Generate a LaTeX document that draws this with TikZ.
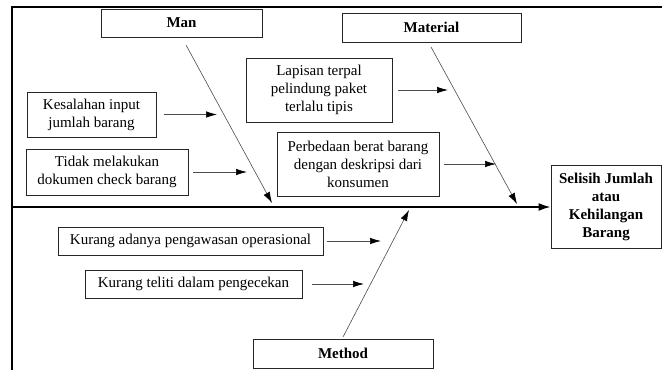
\documentclass[tikz,border=0pt]{standalone}
\usepackage{fontspec}
\setmainfont{Liberation Serif}
\usetikzlibrary{arrows.meta}

\tikzset{
  box/.style={draw=black!85, line width=0.8pt, align=center, inner sep=0pt,
    font=\fontsize{15}{18}\selectfont},
  head/.style={box, font=\fontsize{15}{18}\selectfont\bfseries},
  bone/.style={draw=black!70, line width=0.6pt, -{Latex[length=11pt,width=7pt,color=black]}},
  cause/.style={draw=black!70, line width=0.7pt, -{Latex[length=11pt,width=6.5pt,color=black]}},
}

\begin{document}
\begin{tikzpicture}[x=1pt, y=-1pt] % y runs downwards, as in the picture

  \useasboundingbox (0,0) rectangle (662,370);

  % Frame (top and left edge)
  \draw[line width=2.2pt] (12,370) -- (12,7) -- (662,7);

  % Effect and main spine
  \node[head, minimum width=110pt, minimum height=83pt] (effect) at (606,207)
    {Selisih Jumlah\\atau\\Kehilangan\\Barang};
  \coordinate (spineStart) at (12,207);
  \draw[line width=1.8pt, -{Latex[length=12pt,width=8pt]}] (spineStart) -- (effect);

  % Man (Category)
  \node[head, minimum width=161pt, minimum height=28pt] (man) at (181.5,23) {Man};
  \coordinate (manStart) at (186,45);
  \coordinate (manTip) at (272,203);
  \draw[bone] (manStart) -- (manTip);

  \node[box, minimum width=129pt, minimum height=45pt] (kesalahan) at (91.5,114.5)
    {Kesalahan input\\jumlah barang};
  \coordinate (kesalahanTip) at (217,114.5);
  \draw[cause, shorten <=8pt] (kesalahan) -- (kesalahanTip);

  \node[box, minimum width=162pt, minimum height=46pt] (tidak) at (107,172)
    {Tidak melakukan\\dokumen check barang};
  \coordinate (tidakTip) at (247,172);
  \draw[cause, shorten <=5pt] (tidak) -- (tidakTip);

  % Material (Category)
  \node[head, minimum width=179pt, minimum height=29pt] (material) at (431.5,27.5) {Material};
  \coordinate (materialStart) at (431,47);
  \coordinate (materialTip) at (517,204);
  \draw[bone] (materialStart) -- (materialTip);

  \node[box, minimum width=146pt, minimum height=64pt] (lapisan) at (319,90)
    {Lapisan terpal\\pelindung paket\\terlalu tipis};
  \coordinate (lapisanTip) at (448,90);
  \draw[cause, shorten <=6pt] (lapisan) -- (lapisanTip);

  \node[box, minimum width=162pt, minimum height=64pt] (perbedaan) at (358,164)
    {Perbedaan berat barang\\dengan deskripsi dari\\konsumen};
  \coordinate (perbedaanTip) at (496,164);
  \draw[cause, shorten <=5pt] (perbedaan) -- (perbedaanTip);

  % Method (Category)
  \node[head, minimum width=180pt, minimum height=29pt] (method) at (343,353.5) {Method};
  \coordinate (methodStart) at (343,337);
  \coordinate (methodTip) at (409,210);
  \draw[bone] (methodStart) -- (methodTip);

  \node[box, minimum width=265pt, minimum height=28pt] (pengawasan) at (190.5,241)
    {Kurang adanya pengawasan operasional};
  \coordinate (pengawasanTip) at (381,241);
  \draw[cause, shorten <=4pt] (pengawasan) -- (pengawasanTip);

  \node[box, minimum width=217pt, minimum height=28pt] (teliti) at (193.5,284)
    {Kurang teliti dalam pengecekan};
  \coordinate (telitiTip) at (364,284);
  \draw[cause, shorten <=10pt] (teliti) -- (telitiTip);

\end{tikzpicture}
\end{document}
